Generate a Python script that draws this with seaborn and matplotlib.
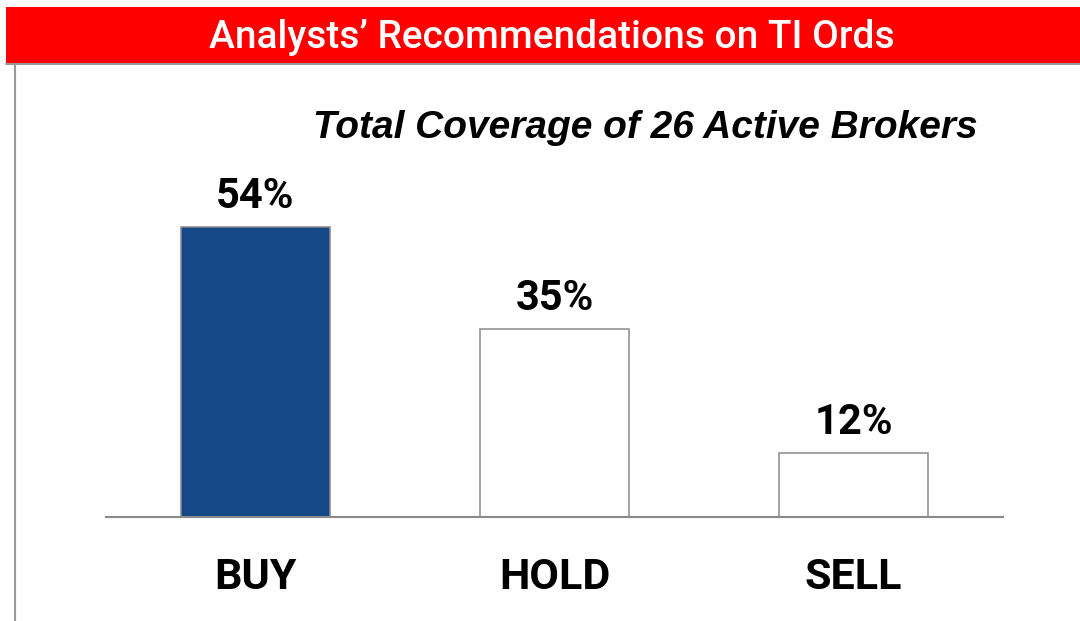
import matplotlib
matplotlib.use("Agg")
import matplotlib.pyplot as plt
import seaborn as sns
from matplotlib.patches import Rectangle
from matplotlib.lines import Line2D

# data
categories = ["BUY", "HOLD", "SELL"]
shares = [54, 35, 12]
labels = ["54%", "35%", "12%"]
bar_colors = ["#144887", "#ffffff", "#ffffff"]

title = "Analysts\u2019 Recommendations on TI Ords"
subtitle = "Total Coverage of 26 Active Brokers"

sns.set_style("white")
plt.rcParams["font.family"] = ["Roboto", "DejaVu Sans"]
plt.rcParams["text.color"] = "black"
plt.rcParams["xtick.color"] = "black"

fig = plt.figure(figsize=(10.8, 6.21), dpi=100)

# red banner on top
fig.patches.append(Rectangle((6 / 1080, 1 - 63 / 621), 1 - 6 / 1080, 56 / 621,
                             transform=fig.transFigure, facecolor="#ff0000",
                             edgecolor="none", zorder=0))
fig.lines.append(Line2D([6 / 1080, 1], [1 - 64 / 621] * 2, transform=fig.transFigure,
                        color="#9a9a9a", lw=1.5))
fig.lines.append(Line2D([15 / 1080] * 2, [0, 1 - 64 / 621], transform=fig.transFigure,
                        color="#9a9a9a", lw=1.5))
fig.text(0.511, 1 - 37 / 621, title, color="white", fontsize=28,
         fontweight="medium", ha="center", va="center")

ax = fig.add_axes([106 / 1080, 104 / 621, 897 / 1080, 357 / 621])
sns.barplot(x=categories, y=shares, hue=categories, palette=bar_colors,
            edgecolor="#8a8a8a", linewidth=1.1, width=0.5, legend=False,
            saturation=1, ax=ax)

for cont, lab in zip(ax.containers, labels):
    ax.bar_label(cont, labels=[lab], padding=7, fontsize=30, fontweight="bold")

ax.set_xlim(-0.5, 2.5)
ax.set_ylim(0, 54 * 357 / 290)
ax.set_yticks([])
ax.set_xlabel("")
ax.set_ylabel("")
for s in ["left", "top", "right"]:
    ax.spines[s].set_visible(False)
ax.spines["bottom"].set_color("#8a8a8a")
ax.spines["bottom"].set_linewidth(1.5)
ax.tick_params(axis="x", length=0, pad=29, labelsize=31)
for t in ax.get_xticklabels():
    t.set_fontweight("bold")

fig.text(645.5 / 1080, 1 - 128 / 621, subtitle, fontsize=28, fontweight="bold",
         fontstyle="italic", family=["Liberation Sans", "DejaVu Sans"],
         ha="center", va="center")

fig.savefig("out.png", dpi=100)
